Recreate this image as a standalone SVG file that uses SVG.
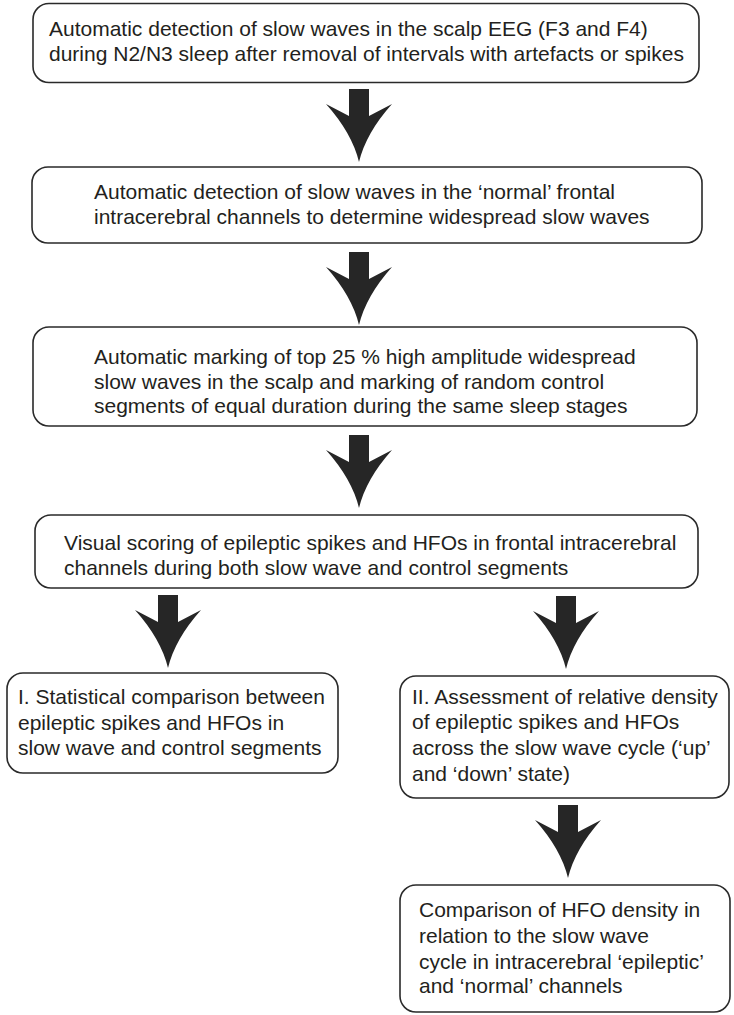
<svg xmlns="http://www.w3.org/2000/svg" xmlns:xlink="http://www.w3.org/1999/xlink" width="734" height="1015" viewBox="0 0 734 1015">
<style>
.box{fill:#ffffff;stroke:#2a2a2a;stroke-width:1.6}
.t{font-family:"Liberation Sans",Arial,Helvetica,sans-serif;font-size:21px;fill:#231f20}
.arr{fill:#262626}
</style>
<defs>
<path id="bigArrow" d="M-10,0 H10 V27 L33,15 Q7,44 0,73 Q-7,44 -33,15 L-10,27 Z"/>
</defs>
<rect width="734" height="1015" fill="#ffffff"/>
<g id="connectors" class="arr">
<use xlink:href="#bigArrow" transform="translate(359,89)"/>
<use xlink:href="#bigArrow" transform="translate(359,252)"/>
<use xlink:href="#bigArrow" transform="translate(359,435)"/>
<use xlink:href="#bigArrow" transform="translate(168,595)"/>
<use xlink:href="#bigArrow" transform="translate(566,596)"/>
<use xlink:href="#bigArrow" transform="translate(568,805)"/>
</g>
<g id="node1">
<rect class="box" x="33" y="3.5" width="666" height="79" rx="16"/>
<text class="t" x="49" y="36">Automatic detection of slow waves in the scalp EEG (F3 and F4)</text>
<text class="t" x="49" y="61">during N2/N3 sleep after removal of intervals with artefacts or spikes</text>
</g>
<g id="node2">
<rect class="box" x="32" y="167" width="670" height="76" rx="16"/>
<text class="t" x="94" y="199">Automatic detection of slow waves in the ‘normal’ frontal</text>
<text class="t" x="94" y="223.5">intracerebral channels to determine widespread slow waves</text>
</g>
<g id="node3">
<rect class="box" x="33" y="327" width="664" height="99" rx="16"/>
<text class="t" x="94" y="363.5">Automatic marking of top 25 % high amplitude widespread</text>
<text class="t" x="94" y="388.5">slow waves in the scalp and marking of random control</text>
<text class="t" x="94" y="413">segments of equal duration during the same sleep stages</text>
</g>
<g id="node4">
<rect class="box" x="35" y="515" width="663" height="73" rx="16"/>
<text class="t" x="64" y="550">Visual scoring of epileptic spikes and HFOs in frontal intracerebral</text>
<text class="t" x="64" y="574.5">channels during both slow wave and control segments</text>
</g>
<g id="node5">
<rect class="box" x="7" y="673" width="331" height="100" rx="16"/>
<text class="t" x="18" y="703.5">I. Statistical comparison between</text>
<text class="t" x="18" y="729.5">epileptic spikes and HFOs in</text>
<text class="t" x="18" y="755">slow wave and control segments</text>
</g>
<g id="node6">
<rect class="box" x="400" y="676" width="329" height="122" rx="16"/>
<text class="t" x="412" y="703.5">II. Assessment of relative density</text>
<text class="t" x="412" y="729">of epileptic spikes and HFOs</text>
<text class="t" x="412" y="755">across the slow wave cycle (‘up’</text>
<text class="t" x="412" y="780.5">and ‘down’ state)</text>
</g>
<g id="node7">
<rect class="box" x="400" y="885" width="330" height="127" rx="16"/>
<text class="t" x="419" y="917">Comparison of HFO density in</text>
<text class="t" x="419" y="943">relation to the slow wave</text>
<text class="t" x="419" y="968.5">cycle in intracerebral ‘epileptic’</text>
<text class="t" x="419" y="993">and ‘normal’ channels</text>
</g>
</svg>
